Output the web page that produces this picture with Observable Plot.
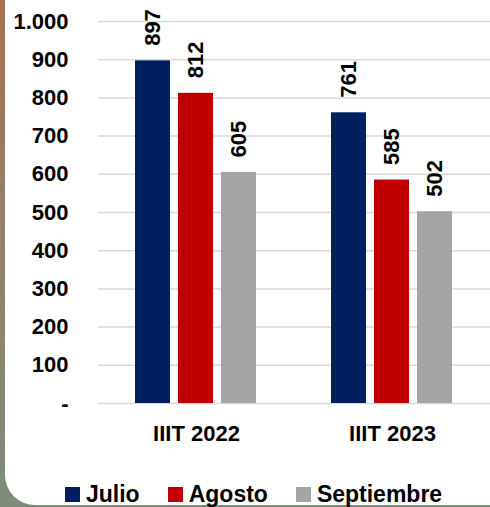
<!DOCTYPE html>
<html>
<head>
<meta charset="utf-8">
<script src="https://cdn.jsdelivr.net/npm/d3@7"></script>
<script src="https://cdn.jsdelivr.net/npm/@observablehq/plot@0.6"></script>
<style>
  html, body { margin: 0; padding: 0; }
  body {
    width: 490px; height: 507px; position: relative; overflow: hidden;
    background: linear-gradient(180deg, #a9714f 0%, #94806a 45%, #7d8c7a 100%);
    font-family: "Liberation Sans", Arial, sans-serif;
  }
  #panel {
    position: absolute; left: 5px; top: 0; width: 500px; height: 505px;
    background: #fff; border-bottom-left-radius: 30px;
  }
  #chart { position: absolute; left: 0; top: 0; }
  #legend {
    position: absolute; left: 65px; top: 481px; display: flex; align-items: center;
    font-weight: bold; font-size: 23px; color: #000; white-space: nowrap;
  }
  .item { display: flex; align-items: center; margin-right: 28px; }
  .sw { width: 15px; height: 15px; margin-right: 6px; }
</style>
</head>
<body>
<div id="panel"></div>
<div id="chart"></div>
<div id="legend"></div>
<script>
const periods = ["IIIT 2022", "IIIT 2023"];
const months = ["Julio", "Agosto", "Septiembre"];
const values2022 = [897, 812, 605];
const values2023 = [761, 585, 502];
const colors = ["#002060", "#C00000", "#A5A5A5"];
const yTicks = [0, 100, 200, 300, 400, 500, 600, 700, 800, 900, 1000];

const data = [];
[values2022, values2023].forEach((vals, i) => {
  vals.forEach((v, j) => data.push({period: periods[i], month: months[j], value: v}));
});

const fmt = d => d === 0 ? "-" : d3.format(",")(d).replace(/,/g, ".");

const chart = Plot.plot({
  width: 490,
  height: 470,
  marginLeft: 97,
  marginRight: 0,
  marginTop: 21,
  marginBottom: 67,
  style: {background: "transparent", fontFamily: "'Liberation Sans', Arial, sans-serif", fontWeight: "bold", color: "#000"},
  fx: {domain: periods, padding: 0, label: null},
  x: {domain: months, paddingInner: 0.18, paddingOuter: 0.85, axis: null},
  y: {domain: [0, 1000], ticks: yTicks, axis: null},
  color: {domain: months, range: colors},
  marks: [
    Plot.gridY(yTicks, {stroke: "#d9d9d9", strokeOpacity: 1, strokeWidth: 1.5}),
    Plot.axisY(yTicks, {tickSize: 0, tickPadding: 30, tickFormat: fmt, fontSize: 22, fontWeight: "bold", label: null}),
    Plot.axisFx({anchor: "bottom", tickSize: 0, tickPadding: 22, fontSize: 22, fontWeight: "bold", label: null}),
    Plot.barY(data, {fx: "period", x: "month", y: "value", fill: "month"}),
    Plot.text(data, {fx: "period", x: "month", y: "value", text: d => String(d.value), rotate: -90, textAnchor: "start", dy: -15, fontSize: 22, fontWeight: "bold", fill: "#000"})
  ]
});
document.getElementById("chart").appendChild(chart);

const legend = document.getElementById("legend");
months.forEach((m, i) => {
  const it = document.createElement("div");
  it.className = "item";
  const sw = document.createElement("span");
  sw.className = "sw";
  sw.style.background = colors[i];
  const t = document.createElement("span");
  t.textContent = m;
  it.appendChild(sw); it.appendChild(t);
  legend.appendChild(it);
});
</script>
</body>
</html>
